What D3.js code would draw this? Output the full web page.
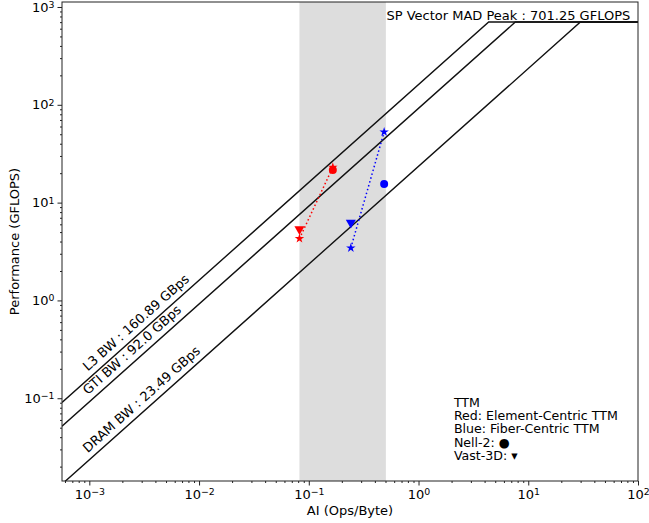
<!DOCTYPE html>
<meta charset="utf-8">
<script src="https://d3js.org/d3.v7.min.js"></script>
<style>
  body { margin: 0; background: #fff; }
  svg text { font-family: "DejaVu Sans", sans-serif; fill: #000; }
</style>
<div id="my_dataviz"></div>
<script>

    // roofline ceilings
    var peakName = "SP Vector MAD Peak", peakGflops = 701.25;
    var bwNames = ["L3 BW", "GTI BW", "DRAM BW"];
    var bwValues = [160.89, 92.0, 23.49];

    // shaded AI range
    var shadeAI = [0.0822, 0.504];

    // measured kernels [AI, GFLOPS]
    var redNell2 = [[0.1656, 21.6]];
    var redVast3d = [[0.0822, 5.35]];
    var redStars = [[0.0822, 4.29], [0.1656, 23.0]];
    var blueNell2 = [[0.486, 15.5]];
    var blueVast3d = [[0.2416, 6.25]];
    var blueStars = [[0.2416, 3.44], [0.486, 52.8]];

    var legendLines = ["TTM", "Red: Element-Centric TTM", "Blue: Fiber-Centric TTM", "Nell-2: \u25CF", "Vast-3D: \u25BE"];

    var xMajor = [1e-3, 1e-2, 1e-1, 1e0, 1e1, 1e2];
    var yMajor = [1e-1, 1e0, 1e1, 1e2, 1e3];

    // set the dimensions and margins of the graph
    var W = 649, H = 523;
    var margin = {top: 2, right: 11, bottom: 42, left: 62},
        width = W - margin.left - margin.right,
        height = H - margin.top - margin.bottom;

    var svg = d3.select("#my_dataviz")
      .append("svg")
        .attr("width", W)
        .attr("height", H)
      .append("g")
        .attr("transform", "translate(" + margin.left + "," + margin.top + ")");

    var x = d3.scaleLog()
      .domain([Math.pow(10, -3.249), 100])
      .range([0, width]);
    var y = d3.scaleLog()
      .domain([Math.pow(10, -1.846), Math.pow(10, 3.051)])
      .range([height, 0]);

    svg.append("clipPath").attr("id", "clip")
      .append("rect").attr("width", width).attr("height", height);
    var plot = svg.append("g").attr("clip-path", "url(#clip)");

    // shaded band
    plot.append("rect")
      .attr("x", x(shadeAI[0]))
      .attr("width", x(shadeAI[1]) - x(shadeAI[0]))
      .attr("y", 0)
      .attr("height", height)
      .attr("fill", "#dddddd");

    // roofline lines
    var xLeft = x.domain()[0], xRight = x.domain()[1];
    bwValues.forEach(function(bw) {
      var ridge = peakGflops / bw;
      var pts = [[xLeft, bw * xLeft], [ridge, peakGflops], [xRight, peakGflops]];
      plot.append("path")
        .attr("d", d3.line().x(function(d) { return x(d[0]); }).y(function(d) { return y(d[1]); })(pts))
        .attr("fill", "none")
        .attr("stroke", "#111")
        .attr("stroke-width", 1.4);
    });

    // dotted connectors
    function dotted(data, color) {
      plot.append("path")
        .attr("d", d3.line().x(function(d) { return x(d[0]); }).y(function(d) { return y(d[1]); })(data))
        .attr("fill", "none")
        .attr("stroke", color)
        .attr("stroke-width", 1.5)
        .attr("stroke-dasharray", "1.5,2.5");
    }
    dotted(redStars, "red");
    dotted(blueStars, "blue");

    function markers(data, type, size, color) {
      plot.selectAll(null)
        .data(data)
        .enter()
        .append("path")
          .attr("transform", function(d) { return "translate(" + x(d[0]) + "," + y(d[1]) + ")" + (type === "tri" ? " rotate(180)" : ""); })
          .attr("d", d3.symbol().type(type === "tri" ? d3.symbolTriangle : type === "star" ? d3.symbolStar : d3.symbolCircle).size(size))
          .attr("fill", color);
    }
    markers(redStars, "star", 28, "red");
    markers(blueStars, "star", 28, "blue");
    markers(redNell2, "circle", 50, "red");
    markers(blueNell2, "circle", 50, "blue");
    markers(redVast3d, "tri", 44, "red");
    markers(blueVast3d, "tri", 44, "blue");

    // ceiling labels
    var labelAI = 1.05e-3;
    var ang = Math.atan2(y(1) - y(10), x(10) - x(1)) * 180 / Math.PI;
    bwValues.forEach(function(bw, i) {
      svg.append("text")
        .attr("transform", "translate(" + x(labelAI) + "," + y(bw * labelAI) + ") rotate(" + (-ang) + ")")
        .attr("dy", -6)
        .attr("font-size", "13px")
        .text(bwNames[i] + " : " + bw.toFixed(bw % 1 === 0 ? 1 : 2) + " GBps");
    });
    svg.append("text")
      .attr("x", x(85))
      .attr("y", y(peakGflops) - 2)
      .attr("text-anchor", "end")
      .attr("font-size", "13px")
      .text(peakName + " : " + peakGflops + " GFLOPS");

    // legend block
    svg.append("g")
      .selectAll("text")
      .data(legendLines)
      .enter()
      .append("text")
        .attr("x", x(2.1))
        .attr("y", function(d, i) { return 405 + i * 13.2; })
        .attr("font-size", "12.6px")
        .text(function(d) { return d; });

    // axes
    function minors(domain) {
      var out = [];
      for (var e = -4; e <= 3; e++)
        for (var m = 2; m <= 9; m++) {
          var v = m * Math.pow(10, e);
          if (v >= domain[0] && v <= domain[1]) out.push(v);
        }
      return out;
    }
    function supLabels(sel) {
      sel.selectAll(".tick text").each(function(d) {
        var t = d3.select(this).text("");
        t.append("tspan").text("10");
        var e = Math.round(Math.log10(d));
        t.append("tspan").attr("dy", "-0.4em").attr("font-size", "72%").text(e < 0 ? "\u2212" + (-e) : e);
      });
    }

    var xAxis = svg.append("g").attr("transform", "translate(0," + height + ")");
    xAxis.append("g").call(d3.axisBottom(x).tickValues(minors(x.domain())).tickSize(2).tickFormat(""));
    xAxis.append("g").call(d3.axisBottom(x).tickValues(xMajor).tickSize(4.5).tickPadding(4)).call(supLabels);

    var yAxis = svg.append("g");
    yAxis.append("g").call(d3.axisLeft(y).tickValues(minors(y.domain())).tickSize(2).tickFormat(""));
    yAxis.append("g").call(d3.axisLeft(y).tickValues(yMajor).tickSize(4.5).tickPadding(3)).call(supLabels);

    svg.selectAll(".domain").remove();
    svg.selectAll(".tick text").attr("font-size", "13px").attr("font-family", "DejaVu Sans");
    svg.selectAll(".tick line").attr("stroke", "#222");

    // frame
    svg.append("rect")
      .attr("width", width)
      .attr("height", height)
      .attr("fill", "none")
      .attr("stroke", "#222")
      .attr("stroke-width", 1);

    // axis titles
    svg.append("text")
      .attr("x", width / 2)
      .attr("y", height + 34)
      .attr("text-anchor", "middle")
      .attr("font-size", "13px")
      .text("AI (Ops/Byte)");
    svg.append("text")
      .attr("transform", "rotate(-90)")
      .attr("x", -height / 2)
      .attr("y", -43)
      .attr("text-anchor", "middle")
      .attr("font-size", "13px")
      .text("Performance (GFLOPS)");

</script>
